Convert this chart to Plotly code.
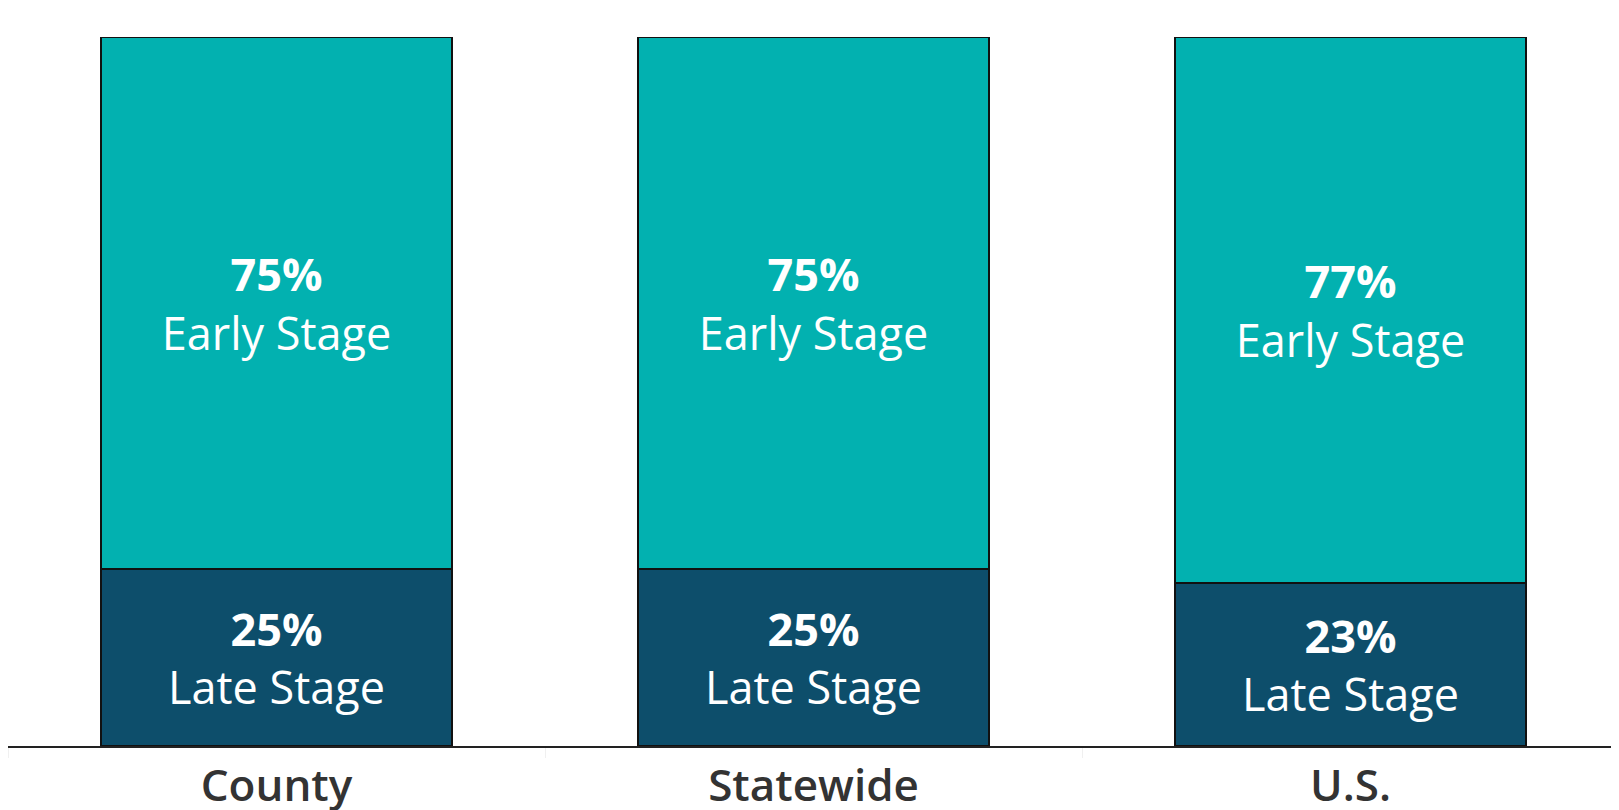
import plotly.graph_objects as go

categories = ["County", "Statewide", "U.S."]
late_stage = [25, 25, 23]
early_stage = [75, 75, 77]
late_label = "Late Stage"
early_label = "Early Stage"

teal = "#02b1b0"
navy = "#0d4e6b"

label_font = dict(family="Open Sans", size=45, color="white")

fig = go.Figure()
fig.add_trace(go.Bar(
    x=categories, y=late_stage, name=late_label,
    marker=dict(color=navy, line=dict(color="#111111", width=1.5)),
    text=late_stage,
    texttemplate="<b>%{y}%</b><br>" + late_label,
    textposition="inside", insidetextanchor="middle",
    textfont=label_font,
    constraintext="none", hoverinfo="skip",
))
fig.add_trace(go.Bar(
    x=categories, y=early_stage, name=early_label,
    marker=dict(color=teal, line=dict(color="#111111", width=1.5)),
    text=early_stage,
    texttemplate="<b>%{y}%</b><br>" + early_label,
    textposition="inside", insidetextanchor="middle",
    textfont=label_font,
    constraintext="none", hoverinfo="skip",
))

fig.update_layout(
    barmode="stack",
    bargap=0.347,
    width=1611, height=802,
    margin=dict(l=0, r=0, t=29, b=64),
    paper_bgcolor="white", plot_bgcolor="white",
    showlegend=False,
    uniformtext=dict(mode=False),
    xaxis=dict(
        showline=True, linecolor="#222222", linewidth=2,
        showgrid=False, zeroline=False, automargin=False,
        ticks="outside", tickson="boundaries", tickcolor="#f0f0f0", ticklen=10,
        tickfont=dict(family="Open Sans", size=44, color="#333333", weight=600),
        range=[-0.5, 2.5],
    ),
    yaxis=dict(
        range=[0, 100], showgrid=False, zeroline=False, automargin=False,
        showticklabels=False, showline=True, linecolor="#efefef", linewidth=1,
    ),
)

fig.write_html("out.html")
